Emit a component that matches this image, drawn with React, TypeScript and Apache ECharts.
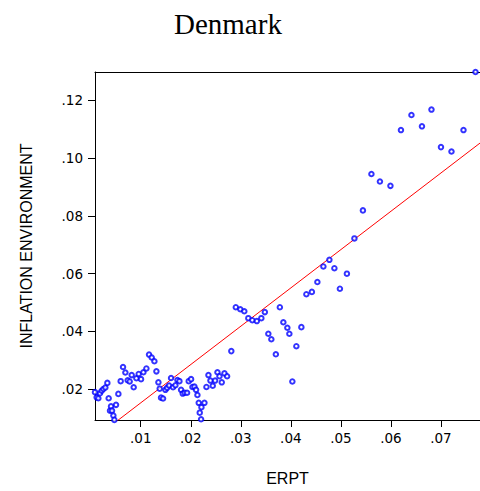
import React, { useEffect, useRef } from "react";
import * as echarts from "echarts";

// ERPT (x) and inflation environment (y) observations
const erpt: number[] = [
  0.00086, 0.00119, 0.00153, 0.00186, 0.00219, 0.00253, 0.00293, 0.00333, 0.00359, 0.00386,
  0.00406, 0.00426, 0.00453, 0.00473, 0.00506, 0.00553, 0.00599, 0.00646, 0.00693, 0.00739,
  0.00779, 0.00819, 0.00859, 0.00913, 0.00959, 0.01006, 0.01053, 0.01113, 0.01166, 0.01219,
  0.01273, 0.01313, 0.01353, 0.01379, 0.01406, 0.01446, 0.01493, 0.01526, 0.01566, 0.01606,
  0.01646, 0.01693, 0.01733, 0.01773, 0.01806, 0.01839, 0.01879, 0.01926, 0.01959, 0.02006,
  0.02033, 0.02073, 0.02106, 0.02133, 0.02159, 0.02179, 0.02213, 0.02206, 0.02273, 0.02313,
  0.02353, 0.02393, 0.02439, 0.02486, 0.02533, 0.02573, 0.02619, 0.02673, 0.02726,
  0.0281, 0.0290, 0.0299, 0.0307, 0.0315, 0.0323, 0.0332, 0.0341, 0.0348, 0.0355,
  0.0361, 0.0370, 0.0378, 0.0385, 0.0393, 0.0397, 0.0403, 0.0411, 0.0421, 0.0431,
  0.0442, 0.0453, 0.0465, 0.0477, 0.0487, 0.0498, 0.0512, 0.0527, 0.0544, 0.0561,
  0.0578, 0.0599, 0.0620, 0.0641, 0.0662, 0.0681, 0.0700, 0.0721, 0.0745, 0.0769,
];

const inflation: number[] = [
  0.0190, 0.0172, 0.0169, 0.0186, 0.0195, 0.0201, 0.0206, 0.0222, 0.0169, 0.0126,
  0.0141, 0.0126, 0.0109, 0.0094, 0.0146, 0.0184, 0.0228, 0.0277, 0.0258, 0.0231,
  0.0227, 0.0249, 0.0207, 0.0238, 0.0253, 0.0235, 0.0259, 0.0272, 0.0320, 0.0310,
  0.0297, 0.0262, 0.0224, 0.0202, 0.0171, 0.0168, 0.0198, 0.0205, 0.0213, 0.0239,
  0.0207, 0.0214, 0.0232, 0.0228, 0.0198, 0.0185, 0.0188, 0.0188, 0.0228, 0.0235,
  0.0208, 0.0209, 0.0198, 0.0180, 0.0153, 0.0119, 0.0138, 0.0096, 0.0153, 0.0208,
  0.0249, 0.0230, 0.0212, 0.0230, 0.0259, 0.0245, 0.0224, 0.0255, 0.0245,
  0.0332, 0.0484, 0.0477, 0.0470, 0.0446, 0.0439, 0.0436, 0.0446, 0.0467, 0.0392,
  0.0373, 0.0321, 0.0484, 0.0432, 0.0413, 0.0392, 0.0227, 0.0349, 0.0415, 0.0529,
  0.0537, 0.0571, 0.0625, 0.0648, 0.0619, 0.0548, 0.0600, 0.0722, 0.0819, 0.0945,
  0.0919, 0.0904, 0.1097, 0.1149, 0.1110, 0.1168, 0.1038, 0.1023, 0.1097, 0.1298,
];

// Fitted regression line: inflation = intercept + slope * erpt
const fitIntercept = 0.00204;
const fitSlope = 1.326;

// Axis ranges and tick labels
const xRange = [0.00086, 0.0778];
const yRange = [0.00936, 0.1298];
const xTicks = [0.01, 0.02, 0.03, 0.04, 0.05, 0.06, 0.07];
const yTicks = [0.02, 0.04, 0.06, 0.08, 0.1, 0.12];

const fmt = (v: number) => v.toFixed(2).replace(/^0/, "");

export default function App() {
  const ref = useRef<HTMLDivElement>(null);

  useEffect(() => {
    if (!ref.current) return;
    const chart = echarts.init(ref.current, undefined, { renderer: "svg" });

    const points = erpt.map((x, i) => [x, inflation[i]]);
    const fitLine = [
      [xRange[0], fitIntercept + fitSlope * xRange[0]],
      [xRange[1], fitIntercept + fitSlope * xRange[1]],
    ];

    const sans = "'Liberation Sans', Arial, sans-serif";
    const tickFont = "'DejaVu Sans', Verdana, sans-serif";
    const black = "#000000";

    chart.setOption({
      animation: false,
      backgroundColor: "#ffffff",
      title: {
        text: "Denmark",
        left: 169,
        top: 4,
        textStyle: {
          fontFamily: "'Liberation Serif', 'Times New Roman', serif",
          fontSize: 29,
          fontWeight: "normal",
          color: "#000000",
        },
      },
      grid: { left: 95, top: 72, right: 0, bottom: 71, show: false },
      xAxis: [
        {
          type: "value",
          min: xRange[0],
          max: xRange[1],
          name: "ERPT",
          nameLocation: "middle",
          nameGap: 50,
          nameTextStyle: { fontFamily: sans, fontSize: 16, color: black },
          axisLine: { show: true, lineStyle: { color: black, width: 1 } },
          axisTick: {
            show: true,
            inside: false,
            length: 7,
            customValues: xTicks,
            lineStyle: { color: black },
          },
          axisLabel: {
            customValues: xTicks,
            formatter: fmt,
            margin: 11,
            fontFamily: tickFont,
            fontSize: 13.5,
            color: black,
          },
          splitLine: { show: false },
        },
        {
          type: "value",
          position: "top",
          min: xRange[0],
          max: xRange[1],
          axisLine: { show: true, lineStyle: { color: black, width: 1 } },
          axisTick: { show: false },
          axisLabel: { show: false },
          splitLine: { show: false },
        },
      ],
      yAxis: {
        type: "value",
        min: yRange[0],
        max: yRange[1],
        name: "INFLATION ENVIRONMENT",
        nameLocation: "middle",
        nameGap: 61,
        nameTextStyle: { fontFamily: sans, fontSize: 16, color: black },
        axisLine: { show: true, lineStyle: { color: black, width: 1 } },
        axisTick: {
          show: true,
          inside: false,
          length: 7,
          customValues: yTicks,
          lineStyle: { color: black },
        },
        axisLabel: {
          customValues: yTicks,
          formatter: fmt,
          margin: 12,
          fontFamily: tickFont,
          fontSize: 13.5,
          color: black,
        },
        splitLine: { show: false },
      },
      series: [
        {
          type: "line",
          data: fitLine,
          showSymbol: false,
          symbol: "none",
          clip: true,
          lineStyle: { color: "#ff0000", width: 1 },
          z: 2,
        },
        {
          type: "scatter",
          data: points,
          symbol: "emptyCircle",
          symbolSize: 4.5,
          clip: true,
          itemStyle: { color: "#0000ff", borderColor: "#0000ff", borderWidth: 1.2 },
          z: 3,
        },
      ],
    });

    return () => chart.dispose();
  }, []);

  return (
    <div
      ref={ref}
      style={{ position: "fixed", left: 0, top: 0, width: 480, height: 491, background: "#fff" }}
    />
  );
}
